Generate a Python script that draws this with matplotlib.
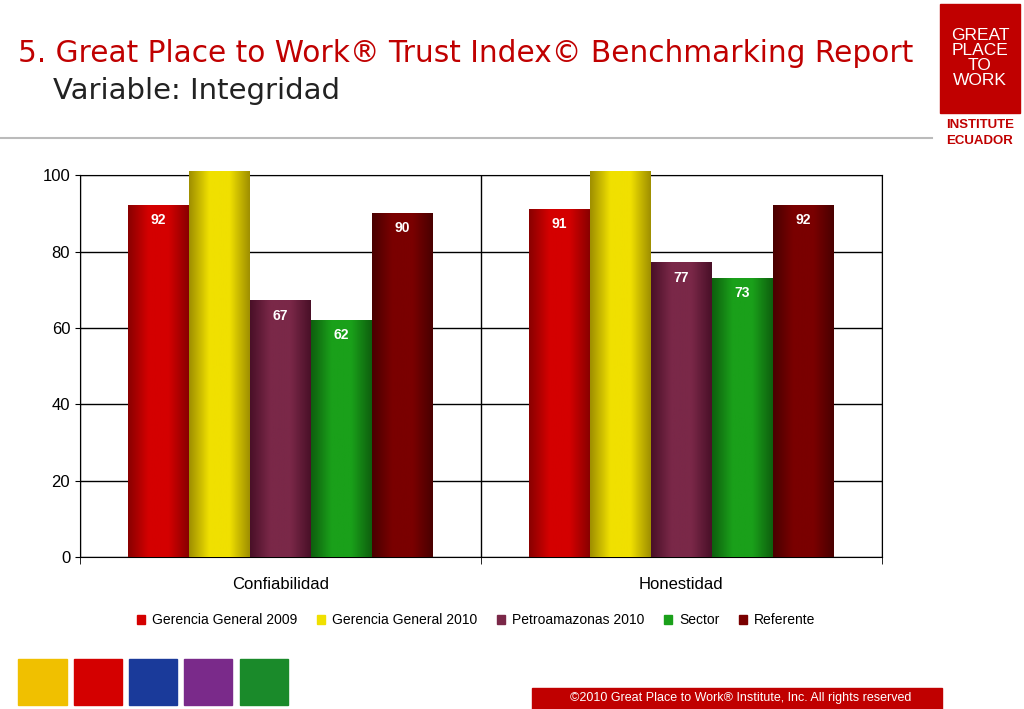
import numpy as np
import matplotlib
matplotlib.use("Agg")
import matplotlib.pyplot as plt
from matplotlib.patches import Rectangle
from matplotlib.colors import LinearSegmentedColormap

plt.rcParams["font.family"] = "Liberation Sans"

categories = ["Confiabilidad", "Honestidad"]
series = ["Gerencia General 2009", "Gerencia General 2010", "Petroamazonas 2010", "Sector", "Referente"]
values = {
    "Gerencia General 2009": [92, 91],
    "Gerencia General 2010": [101, 101],
    "Petroamazonas 2010": [67, 77],
    "Sector": [62, 73],
    "Referente": [90, 92],
}
show_label = [True, False, True, True, True]
colors = ["#d40000", "#f0e000", "#7a2848", "#1aa01a", "#7a0000"]
dark = ["#8a0000", "#a09000", "#4a1028", "#0e600e", "#4a0000"]
yticks = [0, 20, 40, 60, 80, 100]

fig = plt.figure(figsize=(10.24, 7.09), dpi=100)
fig.text(0.018, 0.925, "5. Great Place to Work® Trust Index© Benchmarking Report",
         color="#c00000", fontsize=21.3, va="center", family="DejaVu Sans")
fig.text(0.052, 0.871, "Variable: Integridad", color="#222222", fontsize=21,
         va="center", family="DejaVu Sans")
fig.add_artist(plt.Line2D([0, 0.91], [0.805, 0.805], color="#bbbbbb", lw=1.5))

# logo
fig.patches.append(Rectangle((0.918, 0.84), 0.078, 0.155, transform=fig.transFigure,
                             color="#c00000"))
fig.text(0.957, 0.918, "GREAT\nPLACE\nTO\nWORK", color="white", fontsize=12.5,
         ha="center", va="center", linespacing=1.0)
fig.text(0.957, 0.82, "INSTITUTE", color="#c00000", fontsize=9.5, ha="center",
         weight="bold")
fig.text(0.957, 0.797, "ECUADOR", color="#c00000", fontsize=9.5, ha="center", weight="bold")

# footer
fig.patches.append(Rectangle((0.52, 0.0), 0.4, 0.03, transform=fig.transFigure,
                             color="#c00000"))
fig.text(0.89, 0.015, "©2010 Great Place to Work® Institute, Inc. All rights reserved",
         color="white", fontsize=9, ha="right", va="center")
icon_colors = ["#f0c000", "#d40000", "#1a3a9a", "#7a2a8a", "#1a8a2a"]
for i, c in enumerate(icon_colors):
    fig.patches.append(Rectangle((0.018 + i * 0.054, 0.005), 0.047, 0.066,
                                 transform=fig.transFigure, color=c))

ax = fig.add_axes([0.078, 0.214, 0.783, 0.539])
n = len(series)
w = 0.152
x = np.arange(len(categories))
for i, s in enumerate(series):
    cmap = LinearSegmentedColormap.from_list(s, [dark[i], colors[i], colors[i], dark[i]])
    for j, v in enumerate(values[s]):
        x0 = x[j] - n * w / 2 + i * w
        ax.imshow(np.linspace(0, 1, 64).reshape(1, -1), cmap=cmap, aspect="auto",
                  extent=(x0, x0 + w, 0, v), clip_on=False, zorder=3)
        if show_label[i]:
            ax.text(x0 + w / 2, v - 2, str(v), ha="center", va="top", color="white",
                    fontsize=10, weight="bold", zorder=4)
ax.set_xlim(-0.5, 1.5)
ax.set_ylim(0, 100)
ax.set_yticks(yticks)
ax.yaxis.grid(True, color="black", lw=1)
ax.set_axisbelow(True)
ax.set_xticks(x)
ax.set_xticklabels(categories, fontsize=12)
ax.set_xticks([-0.5, 0.5, 1.5], minor=True)
ax.xaxis.grid(True, which="minor", color="black", lw=1)
ax.tick_params(axis="x", which="major", length=0, pad=14)
ax.tick_params(axis="x", which="minor", length=5)
ax.tick_params(axis="y", labelsize=12)
for sp in ax.spines.values():
    sp.set_color("black")

handles = [Rectangle((0, 0), 1, 1, color=c) for c in colors]
fig.legend(handles, series, loc="center", bbox_to_anchor=(0.465, 0.125), ncol=5,
           frameon=False, fontsize=10, handlelength=0.6, handleheight=0.6,
           columnspacing=1.4, handletextpad=0.5)
fig.savefig("out.png", dpi=100)
